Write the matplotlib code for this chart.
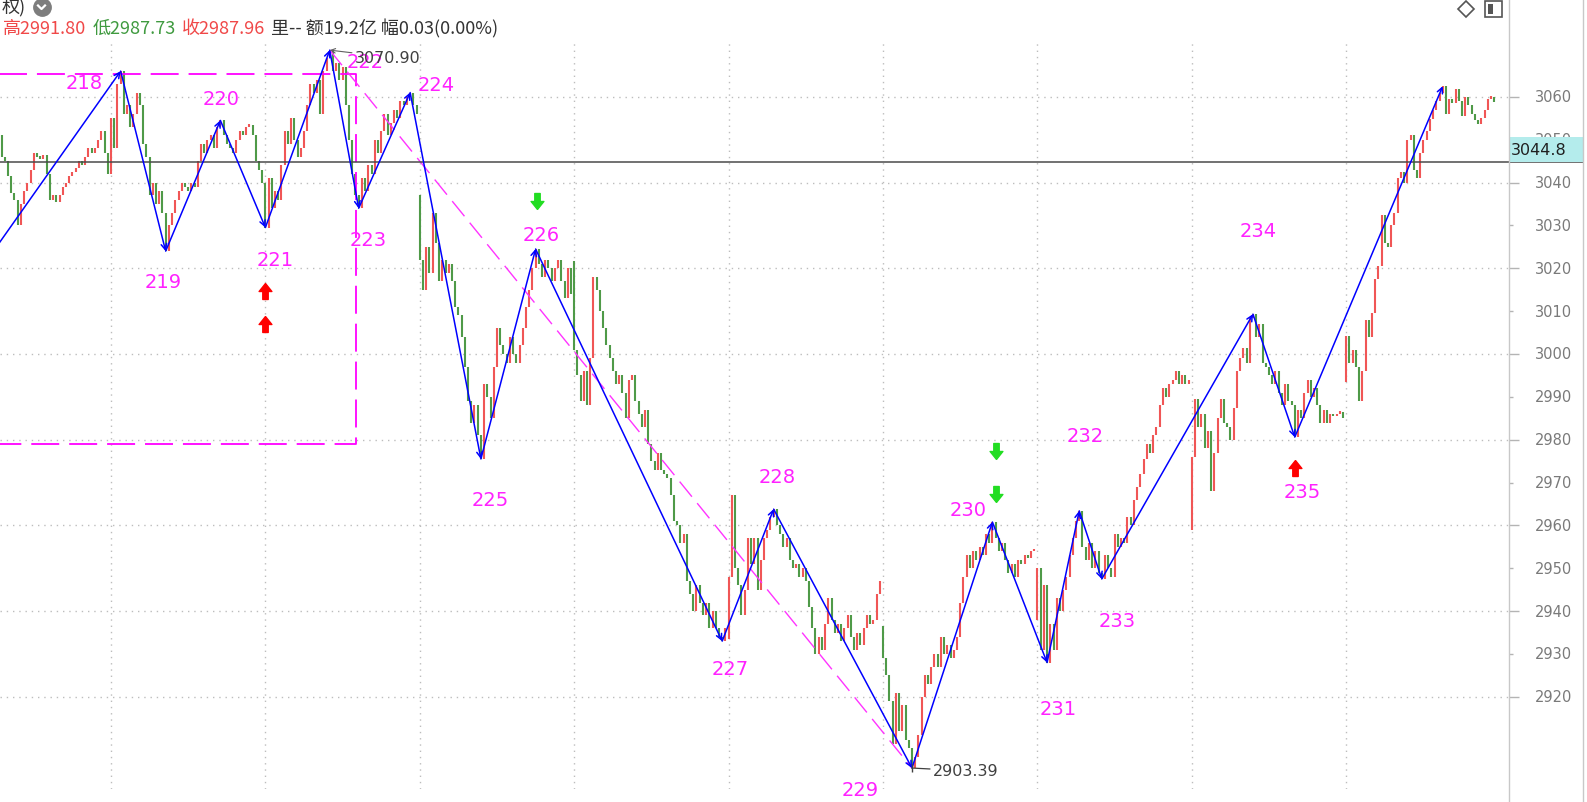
import numpy as np
import matplotlib.pyplot as plt
from matplotlib.path import Path
from matplotlib.lines import Line2D
from matplotlib.patches import Rectangle
from matplotlib.transforms import IdentityTransform

# 5分钟K线：每天48根，首日只露出34根，末日47根
day_opens = [3051.0, 3042.0, 3040.0, 3037.0, 3021.7, 2933.5, 2936.6, 2938.0, 2959.0, 2993.4]

day0 = [3046, 3045, 3041.5, 3037.5, 3036, 3030, 3035, 3038,
        3040, 3043, 3047, 3046, 3045.5, 3046.5, 3042, 3036,
        3037, 3035.5, 3037, 3039, 3040, 3041.5, 3042.5, 3043.5,
        3045, 3044, 3046, 3048, 3047, 3048, 3050, 3052,
        3047, 3042]
day1 = [3055, 3048, 3063, 3066, 3056, 3058, 3053, 3056,
        3061, 3058, 3049, 3046, 3037, 3040, 3035, 3038,
        3033, 3024, 3030, 3033, 3036, 3038, 3040, 3039,
        3038, 3040, 3039, 3045, 3049, 3047, 3050, 3051,
        3048, 3053, 3054.5, 3051, 3049, 3048, 3047, 3050,
        3052, 3051, 3053, 3053.5, 3051, 3045, 3043, 3040]
day2 = [3029.5, 3041, 3034, 3038, 3036, 3044, 3052, 3049,
        3055, 3050, 3046, 3048, 3052, 3058, 3063, 3061,
        3064, 3056, 3066, 3069, 3070.9, 3066, 3068, 3064,
        3067, 3058, 3050, 3042, 3037, 3034, 3041, 3038,
        3044, 3042, 3050, 3047, 3052, 3056, 3051, 3054,
        3057, 3055, 3059, 3058, 3060, 3061, 3058, 3056]
day3 = [3022, 3015, 3025, 3019, 3033, 3026, 3017, 3022,
        3019, 3021, 3017, 3011, 3009, 3004, 2997, 2989,
        2984, 2988, 2981, 2975.5, 2993, 2990, 2985, 2997,
        3006, 3002, 3000, 2998, 3004, 3000, 2998, 3002,
        3006, 3011, 3015, 3020, 3024.5, 3021, 3018, 3022,
        3020, 3017, 3020, 3022, 3017, 3013, 3020, 3014]
day4 = [3001, 2995, 2989, 2996, 2988, 2999, 3018, 3015,
        3010, 3006, 3002, 2999, 2996, 2993, 2995, 2991,
        2985, 2994, 2995, 2989, 2986, 2983, 2987, 2979,
        2975, 2973, 2977, 2973, 2972, 2971, 2967, 2961,
        2960, 2956, 2958, 2947, 2944, 2940, 2946, 2942,
        2939, 2942, 2936, 2940, 2936, 2934, 2933, 2936]
day5 = [2948, 2967, 2950, 2946, 2939, 2945, 2957, 2951,
        2957, 2945, 2952, 2957, 2959, 2962, 2963.8, 2960,
        2958, 2955, 2957, 2952, 2950, 2951, 2948, 2950,
        2947, 2941, 2936, 2930, 2934, 2931, 2937, 2943,
        2938, 2935, 2937, 2933, 2936, 2939, 2934, 2931,
        2935, 2932, 2936, 2939, 2937, 2938, 2944, 2947]
day6 = [2929, 2925, 2919, 2909, 2921, 2912, 2918, 2910,
        2908, 2903.39, 2906, 2911, 2920, 2925, 2923, 2927,
        2930, 2927, 2934, 2930, 2932, 2929, 2931, 2934,
        2942, 2948, 2953, 2950, 2954, 2952, 2955, 2953,
        2958, 2956, 2960.8, 2957, 2954, 2956, 2952, 2949,
        2951, 2948, 2952, 2951, 2953, 2952.5, 2954, 2954.5]
day7 = [2950, 2931, 2946, 2928, 2937, 2931, 2943, 2940,
        2945, 2948, 2953, 2957, 2961, 2963.4, 2955, 2952,
        2956, 2950, 2954, 2949, 2947.5, 2953, 2950, 2948,
        2958, 2955, 2957, 2956, 2962, 2960, 2966, 2969,
        2972, 2975.5, 2979, 2977, 2981, 2983, 2988, 2992,
        2990, 2993, 2994, 2996, 2993, 2995, 2993, 2994]
day8 = [2976, 2989.5, 2983, 2986, 2978, 2982, 2968, 2977,
        2985, 2989.5, 2984, 2983, 2980, 2987.5, 2996, 2999,
        3001.5, 2998, 3008.5, 3009.3, 3004, 3007, 2998, 2997,
        2995, 2993, 2996, 2991, 2988, 2993, 2989, 2988,
        2980.6, 2987, 2985, 2991, 2994, 2990, 2992, 2988,
        2984, 2987, 2984, 2986, 2985.5, 2986, 2986.5, 2985]
day9 = [3004.3, 2998, 3001, 2997, 2989, 2996, 3008, 3004,
        3009.5, 3017.5, 3020.6, 3032.4, 3026, 3025, 3030, 3033,
        3041, 3042.4, 3040, 3050, 3051, 3043, 3041, 3047,
        3050, 3052, 3054.8, 3057, 3059, 3061, 3062.5, 3056,
        3059.5, 3058.5, 3061.8, 3059, 3055.6, 3060, 3058, 3056,
        3054.5, 3053.7, 3055, 3057, 3059.5, 3060, 3058.8]
days = [day0, day1, day2, day3, day4, day5, day6, day7, day8, day9]

# 波浪转折点（K线序号, 点位），第一个点在图外
zz_idx = [-3, 37, 51, 68, 82, 102, 111, 127, 149, 166, 224, 240, 283, 308, 325, 335, 342, 389, 402, 448]
zz_val = [3023.5, 3066, 3024, 3054.5, 3029.5, 3070.9, 3034, 3061, 2975.5, 3024.5,
          2933, 2963.8, 2903.39, 2960.8, 2928, 2963.4, 2947.5, 3009.3, 2980.6, 3062.5]
wave_names = [str(n) for n in range(218, 236)]
label_x = [25.6, 50.2, 68.2, 85, 113, 114, 135, 151.8, 167.7, 226.4, 241, 266.8,
           300.4, 328.4, 336.8, 346.7, 390.5, 404.2]
label_y = [3063.4, 3017, 3059.7, 3022, 3068.2, 3026.6, 3062.9, 2966, 3027.8, 2926.5,
           2971.3, 2898.3, 2963.6, 2917.2, 2980.9, 2937.7, 3028.9, 2968]

# 买卖信号
buy_x = [82, 82, 402]
buy_y = [3014.6, 3006.9, 2973.5]
sell_x = [166.3, 309, 309]
sell_y = [3035.8, 2977.4, 2967.3]

# 区间框和趋势线
box_top, box_bottom, box_right = 3065.3, 2979, 110.2
trend_idx = [102, 283]
trend_val = [3070.9, 2903.39]

last_price = 3044.8
price_ticks = list(range(2920, 3061, 10))

# 组装开收盘
opens, closes, starts = [], [], []
for o, d in zip(day_opens, days):
    starts.append(len(closes))
    opens.append(o)
    opens.extend(d[:-1])
    closes.extend(d)
opens = np.array(opens, float)
closes = np.array(closes, float)
x = np.arange(len(closes))

W, H = 1587, 803
fig = plt.figure(figsize=(W / 100, H / 100), dpi=100)
fig.patch.set_facecolor('white')


def fx(px):
    return px / W


def fy(py):
    return 1 - py / H


ax = fig.add_axes([0, fy(790), fx(1509), (790 - 44) / H])
ax.set_xlim(-0.5, 468.6)
ax.set_ylim(2898.5, 3072.56)
for sp in ax.spines.values():
    sp.set_visible(False)
ax.set_xticks([])
ax.yaxis.tick_right()
ax.set_yticks(np.arange(2920, 3061, 20))
ax.set_yticks(np.arange(2930, 3060, 20), minor=True)
ax.tick_params(axis='y', which='major', length=7, width=1, color='#b4b4b4', labelright=False)
ax.tick_params(axis='y', which='minor', length=3, width=1, color='#b4b4b4', labelright=False)

# 网格
for v in range(2920, 3061, 20):
    ax.axhline(v, color='#bdbdbd', lw=1, ls=(0, (1, 3.5)), zorder=0)
for s in starts[1:]:
    ax.axvline(s, color='#bdbdbd', lw=1, ls=(0, (1, 3.5)), zorder=0)

# K线
lo = np.minimum(opens, closes)
hi = np.maximum(opens, closes)
hi = np.maximum(hi, lo + 0.6)
up = closes >= opens
ax.vlines(x[up], lo[up], hi[up], color='#f05656', lw=1.5, zorder=2)
ax.vlines(x[~up], lo[~up], hi[~up], color='#4f9a48', lw=1.5, zorder=2)

# 最新价横线
ax.axhline(last_price, xmax=1583 / 1509, color='#4a4a4a', lw=1.1, zorder=4, clip_on=False)

# 区间框（洋红虚线）
ax.plot([-20, box_right, box_right, -20], [box_top, box_top, box_bottom, box_bottom],
        color='#ff00ff', lw=1.3, ls=(0, (15.5, 5.5)), zorder=3)
ax.plot(trend_idx, trend_val, color='#ff33ff', lw=1.0, ls=(0, (14, 6)), zorder=3)

# 波浪线
for k in range(1, len(zz_idx)):
    ax.annotate('', xy=(zz_idx[k], zz_val[k]), xytext=(zz_idx[k - 1], zz_val[k - 1]),
                annotation_clip=False,
                arrowprops=dict(arrowstyle='->', color='#0000ff', lw=1.1,
                                shrinkA=0, shrinkB=0, mutation_scale=10),
                zorder=5)

for name, lx, ly in zip(wave_names, label_x, label_y):
    ax.text(lx, ly, name, color='#ff22ff', fontsize=14, ha='center', va='center', zorder=6)

# 信号箭头
up_arrow = Path([(0, 0.5), (0.4, 0), (0.17, 0), (0.17, -0.5), (-0.17, -0.5),
                 (-0.17, 0), (-0.4, 0), (0, 0.5)])
down_arrow = Path([(px, -py) for px, py in up_arrow.vertices])
ax.plot(buy_x, buy_y, ls='none', marker=up_arrow, ms=11.5, color='#ff0000', zorder=6)
ax.plot(sell_x, sell_y, ls='none', marker=down_arrow, ms=11.5, color='#22dd22', zorder=6)

# 高低点标注
ax.annotate(f'{trend_val[0]:.2f}', xy=(trend_idx[0], trend_val[0]), xytext=(18, -5),
            textcoords='offset points', fontsize=11.5, color='#404040', ha='left', va='center',
            arrowprops=dict(arrowstyle='->', color='#606060', lw=0.8, shrinkA=0, shrinkB=0,
                            mutation_scale=8), zorder=6)
ax.annotate(f'{trend_val[1]:.2f}', xy=(trend_idx[1], trend_val[1]), xytext=(15, -2),
            textcoords='offset points', fontsize=11.5, color='#404040', ha='left', va='center',
            arrowprops=dict(arrowstyle='-', color='#404040', lw=0.9, shrinkA=0, shrinkB=0), zorder=6)
ax.plot([trend_idx[1]], [trend_val[1]], marker='|', ms=6, color='#404040', zorder=6)

# 右侧价格刻度
ytr = ax.get_yaxis_transform()
for v in price_ticks:
    ax.text(1535 / 1509, v, str(v), transform=ytr, ha='left', va='center',
            fontsize=10.5, color='#7a7a7a', clip_on=False, zorder=3)
ax.add_patch(Rectangle((1.0, last_price), 75 / 1509, 5.8, transform=ytr, facecolor='#b4ecec',
                       edgecolor='none', clip_on=False, zorder=7))
ax.text(1511 / 1509, last_price + 2.9, f'{last_price:.1f}', transform=ytr, ha='left', va='center',
        fontsize=11.5, color='#202020', clip_on=False, zorder=8)

fig.add_artist(Line2D([fx(1509)] * 2, [0, 1], color='#c8c8c8', lw=1))
fig.add_artist(Line2D([fx(1583)] * 2, [0, 1], color='#c8c8c8', lw=1))

# 顶部信息栏
cjk = ['Noto Sans CJK SC', 'DejaVu Sans']
pix = IdentityTransform()
fig.text(fx(2), fy(8), '权)', fontsize=13, color='#333333', family=cjk, va='center')
fig.add_artist(Line2D([41.5], [H - 8], transform=pix, marker='o', ms=12.5, color='#7d7d7d', ls='none'))
fig.add_artist(Line2D([38, 41.5, 45], [H - 6.5, H - 10, H - 6.5], transform=pix, color='white', lw=1.6))

pieces = [('高2991.80', '#f04848'), ('低2987.73', '#3f9a3f'), ('收2987.96', '#f04848'),
          ('里-- 额19.2亿 幅0.03(0.00%)', '#333333')]
renderer = fig.canvas.get_renderer()
cur = 3
for txt, col in pieces:
    t = fig.text(fx(cur), fy(29), txt, fontsize=13, color=col, family=cjk, va='center')
    bb = t.get_window_extent(renderer)
    cur += bb.width + 6

fig.add_artist(Line2D([1466], [H - 10], transform=pix, marker='D', ms=8, mfc='white',
                      mec='#555555', mew=1.2, ls='none'))
fig.add_artist(Rectangle((1485, H - 18), 17, 16, transform=pix, facecolor='white',
                         edgecolor='#555555', lw=1.2))
fig.add_artist(Rectangle((1488, H - 15), 5, 10, transform=pix, facecolor='#555555', edgecolor='none'))

fig.savefig('out.png', dpi=100)
